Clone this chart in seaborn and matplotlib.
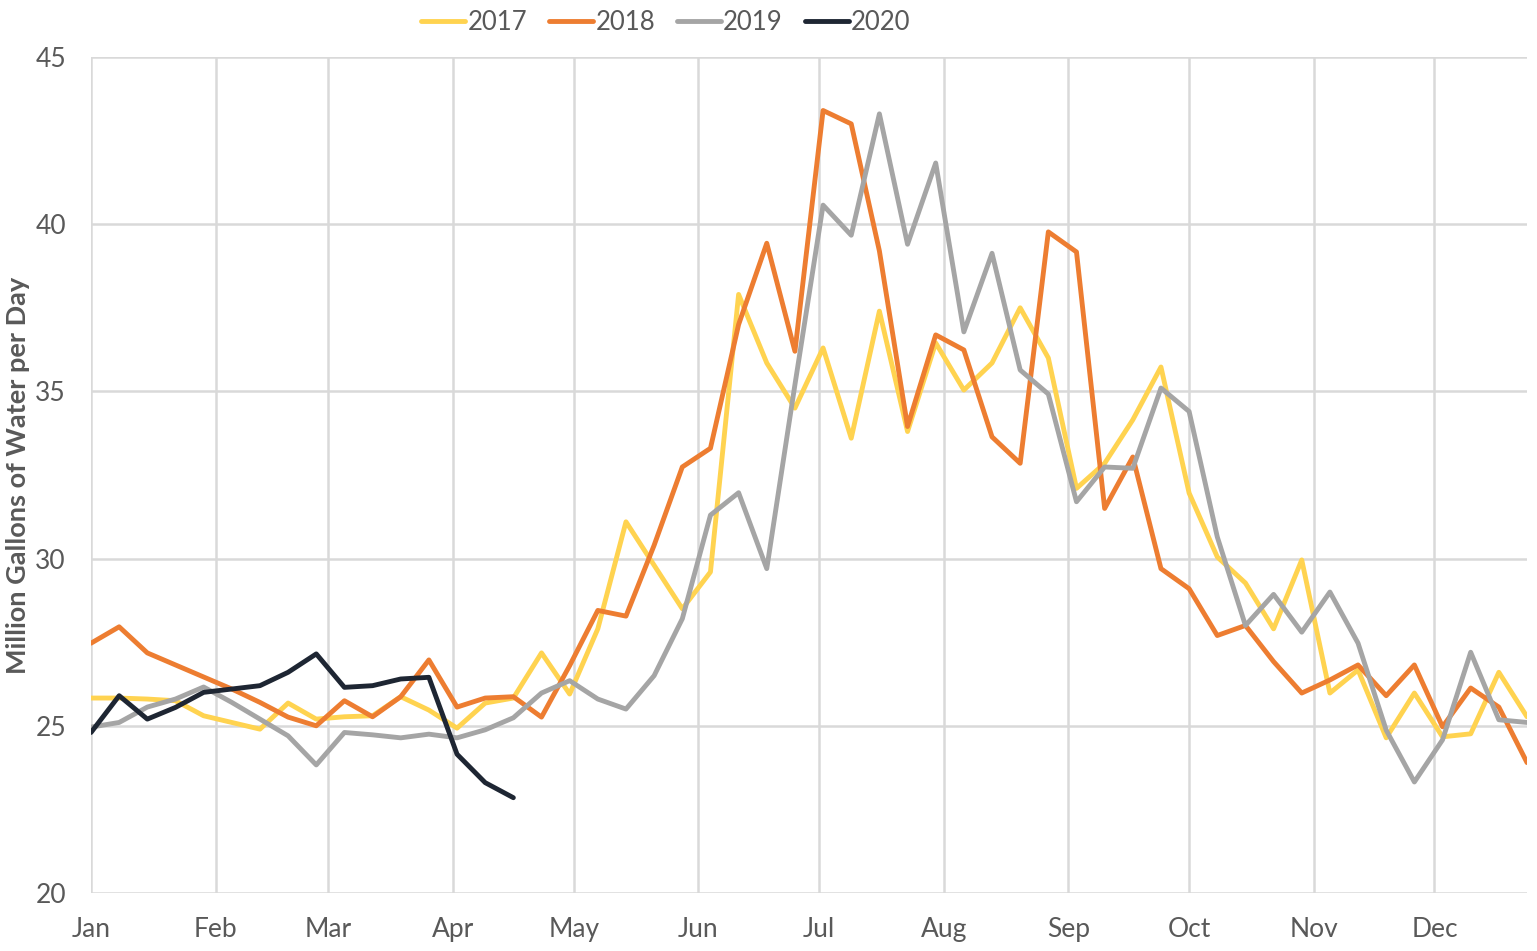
import numpy as np
import pandas as pd
import matplotlib
matplotlib.use("Agg")
import matplotlib.pyplot as plt
import seaborn as sns

# ---- data (weekly values, million gallons per day) ----
weeks = list(range(52))  # week index from Jan 1
month_labels = ["Jan", "Feb", "Mar", "Apr", "May", "Jun",
                "Jul", "Aug", "Sep", "Oct", "Nov", "Dec"]
month_start_day = [0, 31, 59, 90, 120, 151, 181, 212, 243, 273, 304, 334]
y_ticks = [20, 25, 30, 35, 40, 45]

y2017 = [25.83, 25.83, 25.8, 25.75, 25.3, 25.1, 24.9, 25.68, 25.2, 25.27,
         25.3, 25.87, 25.47, 24.93, 25.68, 25.83, 27.18, 25.95, 27.9, 31.1,
         29.8, 28.5, 29.6, 37.9, 35.85, 34.5, 36.3, 33.6, 37.4, 33.8,
         36.45, 35.04, 35.85, 37.5, 36.0, 32.1, 32.85, 34.15, 35.73, 31.96,
         30.05, 29.27, 27.9, 29.96, 25.98, 26.67, 24.64, 25.98, 24.67, 24.76,
         26.6, 25.27]
y2018 = [27.47, 27.96, 27.18, 26.82, 26.46, 26.1, 25.7, 25.26, 25.0, 25.75,
         25.27, 25.87, 26.97, 25.56, 25.83, 25.87, 25.26, 26.8, 28.45, 28.28,
         30.4, 32.74, 33.3, 37.0, 39.43, 36.2, 43.4, 43.0, 39.2, 33.95,
         36.69, 36.24, 33.64, 32.85, 39.77, 39.17, 31.5, 33.04, 29.7, 29.1,
         27.7, 28.0, 26.92, 25.98, 26.37, 26.82, 25.9, 26.82, 24.97, 26.13,
         25.56, 23.9]
y2019 = [24.96, 25.1, 25.56, 25.8, 26.16, 25.7, 25.2, 24.7, 23.83, 24.8,
         24.73, 24.64, 24.75, 24.64, 24.88, 25.24, 25.98, 26.35, 25.8, 25.5,
         26.5, 28.2, 31.3, 31.97, 29.7, 35.2, 40.57, 39.67, 43.3, 39.4,
         41.83, 36.78, 39.13, 35.64, 34.92, 31.7, 32.74, 32.7, 35.1, 34.4,
         30.65, 28.0, 28.93, 27.8, 29.0, 27.47, 24.87, 23.32, 24.58, 27.2,
         25.18, 25.1]
y2020 = [24.8, 25.9, 25.2, 25.55, 26.0, 26.1, 26.2, 26.6, 27.15, 26.15,
         26.2, 26.4, 26.45, 24.15, 23.3, 22.85]

series = {"2017": y2017, "2018": y2018, "2019": y2019, "2020": y2020}
palette = {"2017": "#FFD350", "2018": "#ED7D31", "2019": "#A5A5A5", "2020": "#1E2633"}

rows = []
for yr, vals in series.items():
    for w, v in zip(weeks, vals):
        rows.append({"day": w * 7, "value": v, "year": yr})
df = pd.DataFrame(rows)

# ---- styling ----
sns.set_theme(style="white")
plt.rcParams["font.family"] = ["Lato", "DejaVu Sans"]

W, H = 1537, 951
fig = plt.figure(figsize=(W / 100, H / 100), dpi=100)
ax = fig.add_axes([91 / W, 1 - 893 / H, (1527 - 91) / W, (893 - 57) / H])

sns.lineplot(data=df, x="day", y="value", hue="year", palette=palette,
             linewidth=3.5, ax=ax, sort=False, estimator=None)

ax.set_xlim(0, 357)
ax.set_ylim(20, 45)
ax.set_xticks(month_start_day)
ax.set_xticklabels(month_labels)
ax.set_yticks(y_ticks)
ax.set_yticklabels([str(t) for t in y_ticks])

grid_c = "#D9D9D9"
ax.grid(True, axis="both", color=grid_c, linewidth=1.8)
ax.set_axisbelow(True)
for s in ["top", "right", "bottom", "left"]:
    ax.spines[s].set_visible(False)

label_c = "#595959"
ax.tick_params(axis="x", length=0, pad=17, labelsize=19, labelcolor=label_c)
ax.tick_params(axis="y", length=0, pad=18, labelsize=19, labelcolor=label_c)
ax.set_xlabel("")
ax.set_ylabel("")

fig.text(18 / W, 1 - 475 / H, "Million Gallons of Water per Day", rotation=90,
         ha="center", va="center", fontsize=19.5, fontweight="bold", color=label_c)

handles, labels = ax.get_legend_handles_labels()
if ax.get_legend() is not None:
    ax.get_legend().remove()
leg = fig.legend(handles, labels, loc="center", bbox_to_anchor=(666 / W, 1 - 22 / H),
                 ncol=4, frameon=False, fontsize=18.5, handlelength=1.7,
                 handletextpad=0.1, columnspacing=0.85)
for t in leg.get_texts():
    t.set_color(label_c)

fig.savefig("out.png", dpi=100, facecolor="white")
